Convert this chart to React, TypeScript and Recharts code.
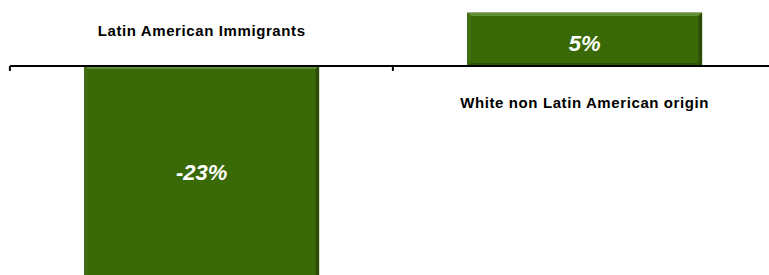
import { Bar, BarChart, LabelList, ReferenceLine, XAxis, YAxis } from "recharts";

const categories = ["Latin American Immigrants", "White non Latin American origin"];
const changes = [-23, 5];

const data = categories.map((name, i) => ({ name, change: changes[i] }));

const GAP = 0.195;

function BevelBar(props: any) {
  const { x, width } = props;
  const h = props.height;
  const top = Math.min(props.y, props.y + h);
  const hgt = Math.abs(h);
  const b = 3;
  return (
    <g>
      <rect x={x} y={top} width={width} height={hgt} fill="#3a6a07" stroke="#2c4f06" strokeWidth={1} />
      <polygon
        points={`${x},${top} ${x + width},${top} ${x + width - b},${top + b} ${x + b},${top + b}`}
        fill="#5f8f33"
      />
      <polygon
        points={`${x},${top} ${x + b},${top + b} ${x + b},${top + hgt - b} ${x},${top + hgt}`}
        fill="#3f7010"
      />
      <polygon
        points={`${x + width},${top} ${x + width - b},${top + b} ${x + width - b},${top + hgt - b} ${x + width},${top + hgt}`}
        fill="#2a4a05"
      />
      <polygon
        points={`${x},${top + hgt} ${x + b},${top + hgt - b} ${x + width - b},${top + hgt - b} ${x + width},${top + hgt}`}
        fill="#2e5206"
      />
    </g>
  );
}

function BarLabels(props: any) {
  const { x, y, width, height, value, index } = props;
  const neg = value < 0;
  const zero = neg ? Math.min(y, y + height) : Math.max(y, y + height);
  const cx = x + width / 2;
  const bandLeft = x - (width * GAP) / (1 - 2 * GAP);
  const valueY = neg ? zero + 107 : (y + y + height) / 2 + 4;
  const catY = neg ? zero - 35 : zero + 37;
  return (
    <g>
      <line x1={bandLeft} y1={zero} x2={bandLeft} y2={zero + 5} stroke="#000" strokeWidth={2} />
      <text
        x={cx}
        y={valueY}
        textAnchor="middle"
        dominantBaseline="central"
        fill="#fff"
        fontFamily="Liberation Sans, Arial, sans-serif"
        fontWeight="bold"
        fontStyle="italic"
        fontSize={22}
      >
        {`${value}%`}
      </text>
      <text
        x={cx}
        y={catY}
        textAnchor="middle"
        dominantBaseline="central"
        fill="#000"
        fontFamily="Liberation Sans, Arial, sans-serif"
        fontWeight="bold"
        fontSize={15}
        letterSpacing={0.6}
      >
        {categories[index]}
      </text>
    </g>
  );
}

export default function App() {
  return (
    <div
      style={{
        position: "fixed",
        top: 0,
        left: 0,
        width: 769,
        height: 275,
        overflow: "hidden",
        background: "#fff",
      }}
    >
      <BarChart
        width={776}
        height={320}
        data={data}
        barCategoryGap={`${GAP * 100}%`}
        margin={{ top: 0, right: 0, left: 10, bottom: 0 }}
      >
        <XAxis dataKey="name" hide />
        <YAxis hide domain={[-24, 6.23]} allowDataOverflow />
        <Bar dataKey="change" shape={<BevelBar />} isAnimationActive={false}>
          <LabelList dataKey="change" content={<BarLabels />} />
        </Bar>
        <ReferenceLine y={0} stroke="#000" strokeWidth={2} />
      </BarChart>
    </div>
  );
}
